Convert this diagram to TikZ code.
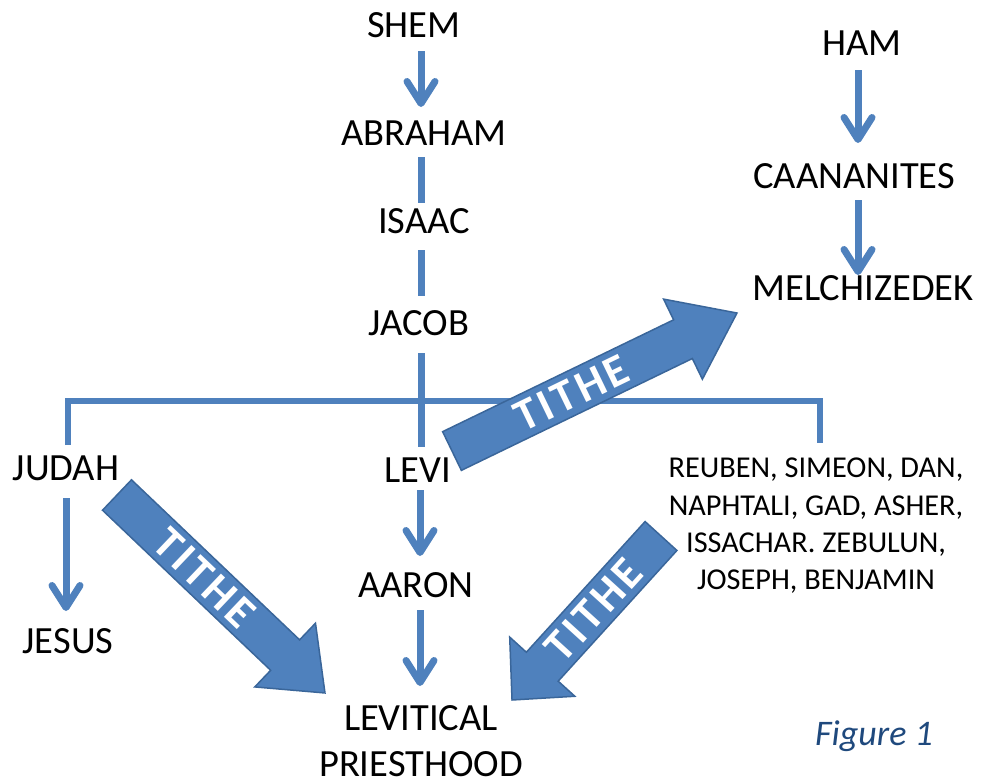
\documentclass[tikz,border=0pt]{standalone}
\usepackage{fontspec}
\setmainfont{Carlito}
\usetikzlibrary{arrows.meta,calc}
\definecolor{ablue}{HTML}{4F81BD}
\definecolor{aedge}{HTML}{3A669A}
\definecolor{figblue}{HTML}{1F497D}
\tikzset{
  lbl/.style={font=\fontsize{38.5}{46}\selectfont, text=black, inner sep=0pt, anchor=base},
  smalllbl/.style={font=\fontsize{30.3}{37.3}\selectfont, text=black, inner sep=0pt, align=center, anchor=north},
  conn/.style={draw=ablue, line width=7pt},
  arr/.style={conn, -{Straight Barb[length=22pt,width=28pt,round]}},
  bar/.style={draw=ablue, line width=6.5pt},
  block/.style={fill=ablue, draw=aedge, line width=1.5pt, line join=miter},
  tithe/.style={font=\fontsize{45}{45}\selectfont\bfseries\addfontfeature{LetterSpace=8}, text=white, inner sep=0pt},
}
\newcommand\titheArrow[8]{%
  \path let \p1=($(#2)-(#1)$) in \pgfextra{%
    \pgfmathsetmacro\tmpang{atan2(\y1,\x1)}\xdef\tang{\tmpang}%
    \pgfmathsetmacro\tmplen{veclen(\x1,\y1)}\xdef\tlen{\tmplen}};
  \begin{scope}[shift={(#1)}, rotate=\tang]
    \draw[block] (0,-#3/2) -- ({\tlen-#5},-#3/2) -- ({\tlen-#5},-#4/2) -- (\tlen,0)
      -- ({\tlen-#5},#4/2) -- ({\tlen-#5},#3/2) -- (0,#3/2) -- cycle;
  \end{scope}
  \node[tithe, rotate=\tang+#7] (#8) at ($(#1)!#6!(#2)$) {TITHE};
}
\begin{document}
\begin{tikzpicture}[x=1pt,y=-1pt]
\useasboundingbox (0,0) rectangle (981,779);
% names
\node[lbl] (shem) at (414,37) {SHEM};
\node[lbl] (abraham) at (424,145) {ABRAHAM};
\node[lbl] (isaac) at (424,233) {ISAAC};
\node[lbl] (jacob) at (419,335) {JACOB};
\node[lbl] (judah) at (66,480) {JUDAH};
\node[lbl] (jesus) at (68,653) {JESUS};
\node[lbl] (levi) at (418,482) {LEVI};
\node[lbl] (aaron) at (416,597) {AARON};
\node[lbl, align=center, font=\fontsize{38.5}{46}\selectfont, anchor=north] (levitical) at (421,705) {LEVITICAL\\PRIESTHOOD};
\node[lbl] (ham) at (862,55) {HAM};
\node[lbl] (caan) at (854,188) {CAANANITES};
\node[lbl] (melch) at (863,300) {MELCHIZEDEK};
\node[smalllbl] (reuben) at (816,458) {REUBEN, SIMEON, DAN,\\NAPHTALI, GAD, ASHER,\\ISSACHAR. ZEBULUN,\\JOSEPH, BENJAMIN};
\node[font=\fontsize{36}{36}\selectfont\itshape, text=figblue, inner sep=0pt, anchor=base west] (fig) at (815,745) {Figure 1};
% lineage connectors
\draw[arr] ($(shem.base)+(7,14)$) -- ($(abraham.base)+(-3,-38)$);
\draw[conn] ($(abraham.base)+(-3,12)$) -- ($(isaac.base)+(-3,-30)$);
\draw[conn] ($(isaac.base)+(-3,17)$) -- ($(jacob.base)+(2,-39)$);
\draw[conn] ($(jacob.base)+(2,18)$) -- ($(levi.base)+(3,-35)$);
\draw[bar] ($(judah.base)+(2,-35)$) -- ++(0,-44) -| ($(reuben.north)+(4,-15)$);
\draw[arr] ($(levi.base)+(2,8)$) -- ($(aaron.base)+(4,-41)$);
\draw[arr] ($(aaron.base)+(4,13)$) -- ($(levitical.north)+(-1,-19)$);
\draw[arr] ($(judah.base)+(0,18)$) -- ($(jesus.base)+(-2,-42)$);
\draw[arr] ($(ham.base)+(-4,15)$) -- ($(caan.base)+(4,-45)$);
\draw[arr] ($(caan.base)+(4,12)$) -- ($(melch.base)+(-5,-25)$);
% tithe block arrows
\coordinate (a1s) at (452,451); \coordinate (a1e) at (737,313);
\coordinate (a2s) at (117,495); \coordinate (a2e) at (325,693);
\coordinate (a3s) at (661,536); \coordinate (a3e) at (512,700);
\titheArrow{a1s}{a1e}{43}{89}{60}{0.42}{0}{t1}
\titheArrow{a2s}{a2e}{42}{88}{55}{0.42}{0}{t2}
\titheArrow{a3s}{a3e}{43}{88}{45}{0.45}{180}{t3}
\end{tikzpicture}
\end{document}
